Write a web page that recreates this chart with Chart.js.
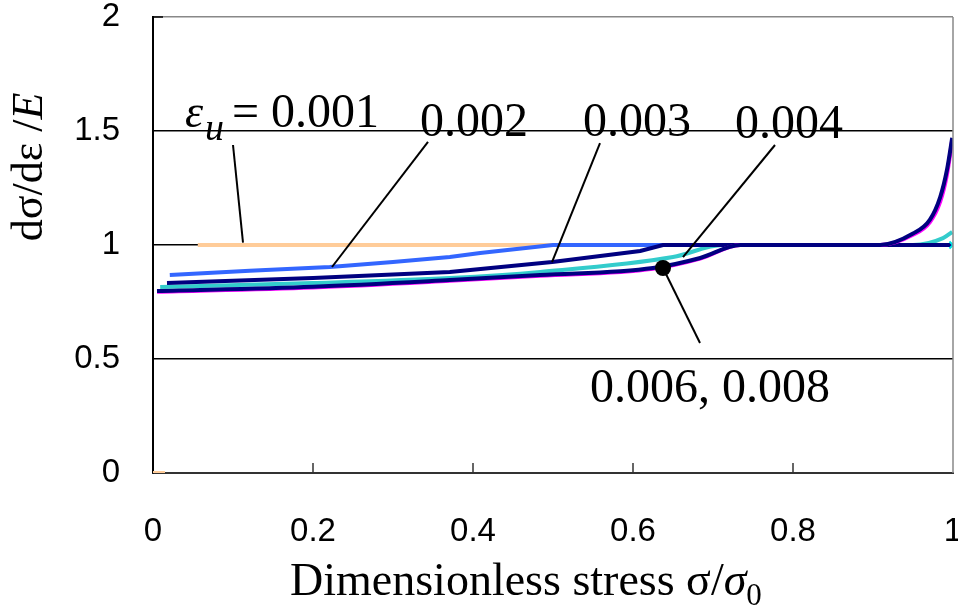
<!DOCTYPE html>
<html>
<head>
<meta charset="utf-8">
<script src="https://cdn.jsdelivr.net/npm/chart.js@4.4.1/dist/chart.umd.min.js"></script>
<style>
  html, body { margin: 0; padding: 0; background: #fff; }
  #wrap { width: 958px; height: 609px; }
</style>
</head>
<body>
<div id="wrap"><canvas id="grafico" width="958" height="609"></canvas></div>
<script>
// eps_u = 0.001  (tiny piece at the origin, then flat at 1)
const x001 = [0, 0.015, 0.03, 0.056, 1.0];
const y001 = [0, 0, null, 1.0, 1.0];
// eps_u = 0.002
const x002 = [0.021, 0.121, 0.221, 0.30, 0.371, 0.409, 0.5, 1.0];
const y002 = [0.868, 0.887, 0.904, 0.925, 0.947, 0.965, 1.0, 1.0];
// eps_u = 0.003
const x003 = [0.0175, 0.20, 0.371, 0.499, 0.609, 0.6375, 1.0];
const y003 = [0.833, 0.855, 0.882, 0.925, 0.974, 1.0, 1.0];
// eps_u = 0.004
const x004 = [0.009, 0.20, 0.371, 0.484, 0.65, 0.7125, 0.95, 0.9875, 0.999];
const y004 = [0.816, 0.833, 0.855, 0.882, 0.947, 1.0, 1.0, 1.03, 1.057];
// eps_u = 0.006 / 0.008
const x006 = [0, 0.003, 0.005, 0.20, 0.371, 0.484, 0.625, 0.684, 0.734, 0.909, 0.95, 0.971, 0.984, 0.9925, 0.999];
const y006 = [0, null, 0.795, 0.814, 0.843, 0.865, 0.896, 0.94, 1.0, 1.0, 1.045, 1.10, 1.19, 1.31, 1.46];
const x008 = [0, 0.003, 0.005, 0.20, 0.371, 0.484, 0.625, 0.684, 0.734, 0.909, 0.95, 0.971, 0.984, 0.9925, 0.999];
const y008 = [0, null, 0.798, 0.817, 0.846, 0.868, 0.899, 0.943, 1.0, 1.0, 1.05, 1.11, 1.21, 1.33, 1.47];
// end marker
const xMark = [1.0];
const yMark = [1.0];

const xTicks = [0, 0.2, 0.4, 0.6, 0.8, 1];
const yTicks = [0, 0.5, 1, 1.5, 2];

const SERIF = "'Liberation Serif', 'Times New Roman', serif";
const SANS = "'Liberation Sans', Arial, sans-serif";

const pts = (xs, ys) => xs.map((x, i) => ({ x: x, y: ys[i] }));

// labels and leader lines, in data units
const leaders = [
    { from: [0.1, 1.4386], to: [0.1125, 1.01] },
    { from: [0.34375, 1.452], to: [0.22375, 0.9035] },
    { from: [0.55875, 1.447], to: [0.49875, 0.925] },
    { from: [0.7775, 1.4386], to: [0.6625, 0.947] },
    { from: [0.6375, 0.899], to: [0.68375, 0.570] }
];
const labels = [
    { text: '0.002', at: [0.33375, 1.478] },
    { text: '0.003', at: [0.5375, 1.478] },
    { text: '0.004', at: [0.7275, 1.469] },
    { text: '0.006, 0.008', at: [0.54625, 0.311] }
];
const dot = [0.6375, 0.899];

const extras = {
    id: 'extras',
    afterDatasetsDraw(chart) {
        const ctx = chart.ctx, sx = chart.scales.x, sy = chart.scales.y;
        const px = p => [sx.getPixelForValue(p[0]), sy.getPixelForValue(p[1])];
        const a = chart.chartArea;
        ctx.save();

        // right frame
        ctx.strokeStyle = '#888'; ctx.lineWidth = 1.5;
        ctx.beginPath(); ctx.moveTo(a.right, a.top); ctx.lineTo(a.right, a.bottom); ctx.stroke();

        // inner ticks
        ctx.strokeStyle = '#333'; ctx.lineWidth = 1.5;
        xTicks.slice(1, -1).forEach(v => {
            const x = sx.getPixelForValue(v);
            ctx.beginPath(); ctx.moveTo(x, a.bottom); ctx.lineTo(x, a.bottom - 10); ctx.stroke();
        });
        ctx.strokeStyle = '#000';
        ctx.beginPath(); ctx.moveTo(a.left, a.top); ctx.lineTo(a.left + 10, a.top); ctx.stroke();

        // leader lines
        ctx.strokeStyle = '#000'; ctx.lineWidth = 2;
        leaders.forEach(l => {
            const p = px(l.from), q = px(l.to);
            ctx.beginPath(); ctx.moveTo(p[0], p[1]); ctx.lineTo(q[0], q[1]); ctx.stroke();
        });
        const d = px(dot);
        ctx.fillStyle = '#000';
        ctx.beginPath(); ctx.arc(d[0], d[1], 8, 0, Math.PI * 2); ctx.fill();

        // labels
        ctx.textBaseline = 'alphabetic'; ctx.textAlign = 'left';
        ctx.font = '48px ' + SERIF;
        labels.forEach(l => {
            const p = px(l.at);
            ctx.fillText(l.text, p[0], p[1]);
        });
        const e = px([0.04, 1.5175]);
        ctx.font = 'italic 46px ' + SERIF;
        ctx.fillText('\u03b5', e[0], e[1]);
        ctx.font = 'italic 38px ' + SERIF;
        ctx.fillText('u', e[0] + 20, e[1] + 13);
        ctx.font = '48px ' + SERIF;
        ctx.fillText('= 0.001', e[0] + 47, e[1]);

        // x title
        ctx.font = '46px ' + SERIF;
        let tx = 290;
        const ty = 595;
        const t1 = 'Dimensionless stress \u03c3/';
        ctx.fillText(t1, tx, ty); tx += ctx.measureText(t1).width;
        ctx.font = 'italic 46px ' + SERIF;
        ctx.fillText('\u03c3', tx, ty); tx += ctx.measureText('\u03c3').width;
        ctx.font = '31px ' + SERIF;
        ctx.fillText('0', tx, ty + 10);

        // y title
        ctx.translate(42, 167);
        ctx.rotate(-Math.PI / 2);
        ctx.font = '44px ' + SERIF;
        const y1 = 'd\u03c3/d\u03b5 /';
        const w1 = ctx.measureText(y1).width;
        ctx.font = 'italic 44px ' + SERIF;
        const w2 = ctx.measureText('E').width;
        const sx0 = -(w1 + w2) / 2;
        ctx.font = '44px ' + SERIF;
        ctx.fillText(y1, sx0, 0);
        ctx.font = 'italic 44px ' + SERIF;
        ctx.fillText('E', sx0 + w1, 0);

        ctx.restore();
    }
};

const line = (label, xs, ys, color, order, extra) => Object.assign({
    label: label,
    data: pts(xs, ys),
    borderColor: color,
    backgroundColor: color,
    borderWidth: 4,
    pointRadius: 0,
    fill: false,
    order: order
}, extra || {});

const noPad = s => { s.paddingTop = 0; s.paddingBottom = 0; s.paddingLeft = 0; s.paddingRight = 0; };

new Chart(document.getElementById('grafico'), {
    type: 'line',
    data: {
        datasets: [
            line('0.001', x001, y001, '#FFCC99', 6),
            line('0.002', x002, y002, '#3366FF', 5),
            line('0.003', x003, y003, '#000080', 3),
            line('0.004', x004, y004, '#33CCCC', 4, { cubicInterpolationMode: 'monotone' }),
            line('0.006', x006, y006, '#FF00FF', 2, { cubicInterpolationMode: 'monotone' }),
            line('0.008', x008, y008, '#000080', 1, { cubicInterpolationMode: 'monotone' }),
            {
                label: 'end', data: pts(xMark, yMark), showLine: false,
                pointStyle: 'crossRot', pointRadius: 5, borderWidth: 2,
                borderColor: '#00E5E5', order: 0
            }
        ]
    },
    options: {
        responsive: false,
        animation: false,
        devicePixelRatio: 1,
        layout: { autoPadding: false, padding: { top: 17, right: 5, left: 0, bottom: 0 } },
        plugins: { legend: { display: false }, tooltip: { enabled: false } },
        scales: {
            x: {
                type: 'linear', min: 0, max: 1,
                afterFit: s => { s.height = 136; noPad(s); },
                afterBuildTicks: s => { s.ticks = xTicks.map(v => ({ value: v })); },
                grid: { display: false },
                border: { display: true, color: '#333', width: 2 },
                ticks: { color: '#000', font: { family: SANS, size: 33 }, padding: 31, maxRotation: 0,
                         callback: v => String(v) }
            },
            y: {
                type: 'linear', min: 0, max: 2,
                afterFit: s => { s.width = 153; noPad(s); },
                afterBuildTicks: s => { s.ticks = yTicks.map(v => ({ value: v })); },
                grid: {
                    drawTicks: false,
                    lineWidth: 1.5,
                    color: c => c.tick.value === 2 ? '#888' : (c.tick.value === 0 ? '#333' : '#000')
                },
                border: { display: true, color: '#000', width: 2 },
                ticks: { color: '#000', font: { family: SANS, size: 33 }, padding: 33,
                         callback: v => String(v) }
            }
        }
    },
    plugins: [extras]
});
</script>
</body>
</html>
